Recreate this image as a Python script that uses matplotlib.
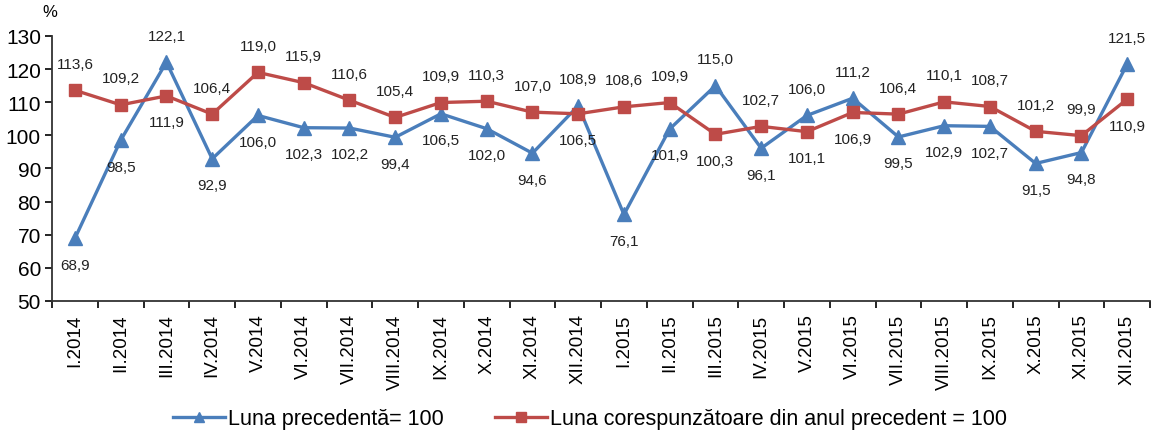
import numpy as np
import matplotlib.pyplot as plt
from matplotlib.ticker import FixedLocator

plt.rcParams['font.family'] = ['Liberation Sans', 'DejaVu Sans']

luni = ['I.2014', 'II.2014', 'III.2014', 'IV.2014', 'V.2014', 'VI.2014',
        'VII.2014', 'VIII.2014', 'IX.2014', 'X.2014', 'XI.2014', 'XII.2014',
        'I.2015', 'II.2015', 'III.2015', 'IV.2015', 'V.2015', 'VI.2015',
        'VII.2015', 'VIII.2015', 'IX.2015', 'X.2015', 'XI.2015', 'XII.2015']

luna_prec = [68.9, 98.5, 122.1, 92.9, 106.0, 102.3, 102.2, 99.4, 106.5, 102.0, 94.6, 108.9,
             76.1, 101.9, 115.0, 96.1, 106.0, 111.2, 99.5, 102.9, 102.7, 91.5, 94.8, 121.5]
an_prec = [113.6, 109.2, 111.9, 106.4, 119.0, 115.9, 110.6, 105.4, 109.9, 110.3, 107.0, 106.5,
           108.6, 109.9, 100.3, 102.7, 101.1, 106.9, 106.4, 110.1, 108.7, 101.2, 99.9, 110.9]

blue = '#4A7EBB'
red = '#BE4B48'

fig = plt.figure(figsize=(11.57, 4.35), dpi=100)
ax = fig.add_axes([0.045, 0.306, 0.949, 0.609])

x = np.arange(len(luni))
ax.plot(x, luna_prec, color=blue, lw=2.4, marker='^', ms=10, label='Luna precedentă= 100')
ax.plot(x, an_prec, color=red, lw=2.4, marker='s', ms=9, label='Luna corespunzătoare din anul precedent = 100')

def fmt(v):
    return f'{v:.1f}'.replace('.', ',')

# valoarea mai mare deasupra, cea mai mica dedesubt
for i in range(len(luni)):
    a, b = luna_prec[i], an_prec[i]
    hi, lo = (a, b) if a >= b else (b, a)
    ax.annotate(fmt(hi), (i, hi), xytext=(0, 19), textcoords='offset points',
                ha='center', va='center', fontsize=11, color='#222222')
    ax.annotate(fmt(lo), (i, lo), xytext=(0, -19), textcoords='offset points',
                ha='center', va='center', fontsize=11, color='#222222')

ax.set_xlim(-0.5, len(luni) - 0.5)
ax.set_ylim(50, 130)
ax.set_yticks(np.arange(50, 131, 10))
ax.tick_params(axis='y', labelsize=15, length=5, width=1.2, direction='out', pad=3)
ax.set_xticks(x)
ax.set_xticklabels(luni, rotation=90, fontsize=13.5)
ax.tick_params(axis='x', which='major', length=0, pad=9)
ax.xaxis.set_minor_locator(FixedLocator(np.arange(-0.5, len(luni), 1)))
ax.tick_params(axis='x', which='minor', length=5, width=1.2, direction='out')

for s in ['top', 'right']:
    ax.spines[s].set_visible(False)
for s in ['left', 'bottom']:
    ax.spines[s].set_linewidth(1.3)
    ax.spines[s].set_color('#333333')

fig.text(0.043, 0.972, '%', fontsize=12, ha='center', va='center')

fig.legend(loc='center', bbox_to_anchor=(0.51, 0.035), ncol=2, frameon=False,
           fontsize=15.5, handlelength=2.4, columnspacing=2.4, handletextpad=0.15,
           markerscale=0.75)

fig.savefig('out.png', dpi=100)
